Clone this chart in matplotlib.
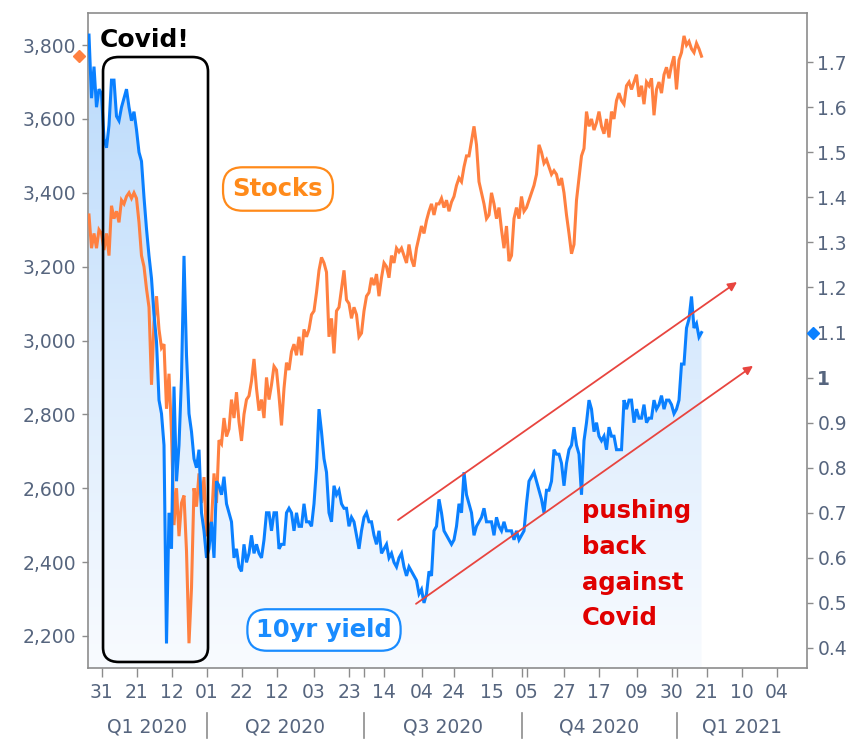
import numpy as np
import matplotlib
matplotlib.use("Agg")
import matplotlib.pyplot as plt
import matplotlib.transforms as mtransforms
from matplotlib.patches import FancyBboxPatch

# ---------------- data (one value per trading day) ----------------
yield_vals = [
    1.76, 1.62, 1.69, 1.60, 1.64, 1.63, 1.53, 1.51, 1.56, 1.66,
    1.66, 1.58, 1.57, 1.60, 1.62, 1.64, 1.60, 1.57, 1.59, 1.55,
    1.50, 1.48, 1.40, 1.33, 1.27, 1.22, 1.14, 1.08, 0.95, 0.92,
    0.85, 0.41, 0.70, 0.62, 0.98, 0.77, 0.85, 1.00, 1.27, 1.05,
    0.92, 0.88, 0.82, 0.80, 0.84, 0.70, 0.66, 0.60, 0.62, 0.68,
    0.60, 0.77, 0.76, 0.74, 0.78, 0.72, 0.70, 0.68, 0.60, 0.62,
    0.58, 0.57, 0.63, 0.59, 0.61, 0.65, 0.61, 0.63, 0.61, 0.60,
    0.64, 0.70, 0.70, 0.66, 0.70, 0.70, 0.62, 0.63, 0.63, 0.70,
    0.71, 0.70, 0.66, 0.70, 0.67, 0.67, 0.72, 0.68, 0.68, 0.67,
    0.72, 0.80, 0.93, 0.88, 0.82, 0.79, 0.70, 0.68, 0.76, 0.74,
    0.75, 0.72, 0.71, 0.71, 0.67, 0.69, 0.68, 0.65, 0.62, 0.66,
    0.69, 0.70, 0.68, 0.68, 0.65, 0.63, 0.66, 0.61, 0.62, 0.63,
    0.60, 0.61, 0.59, 0.58, 0.60, 0.61, 0.58, 0.56, 0.58, 0.57,
    0.56, 0.55, 0.52, 0.53, 0.50, 0.52, 0.57, 0.56, 0.66, 0.67,
    0.73, 0.70, 0.66, 0.65, 0.64, 0.63, 0.64, 0.67, 0.72, 0.70,
    0.79, 0.74, 0.72, 0.70, 0.65, 0.67, 0.68, 0.69, 0.71, 0.68,
    0.68, 0.68, 0.65, 0.69, 0.67, 0.66, 0.68, 0.66, 0.66, 0.66,
    0.64, 0.66, 0.64, 0.65, 0.66, 0.72, 0.77, 0.78, 0.79, 0.77,
    0.75, 0.73, 0.70, 0.75, 0.75, 0.77, 0.84, 0.83, 0.83, 0.81,
    0.76, 0.81, 0.84, 0.85, 0.89, 0.85, 0.83, 0.74, 0.86, 0.90,
    0.95, 0.93, 0.88, 0.90, 0.87, 0.86, 0.87, 0.84, 0.89, 0.87,
    0.87, 0.84, 0.84, 0.84, 0.95, 0.93, 0.95, 0.95, 0.90, 0.93,
    0.91, 0.91, 0.94, 0.90, 0.91, 0.91, 0.95, 0.93, 0.94, 0.96,
    0.93, 0.95, 0.95, 0.94, 0.92, 0.93, 0.95, 1.03, 1.03, 1.11,
    1.13, 1.18, 1.11, 1.12, 1.09, 1.10,
]

spx_vals = [
    3340, 3250, 3290, 3250, 3300, 3290, 3245, 3290, 3230, 3365,
    3330, 3350, 3320, 3380, 3370, 3390, 3400, 3385, 3400, 3385,
    3320, 3230, 3200, 3140, 3090, 2880, 3050, 3120, 3030, 2980,
    2990, 2815, 2910, 2750, 2500, 2600, 2470, 2560, 2580, 2430,
    2180, 2330, 2600, 2550, 2640, 2560, 2630, 2470, 2490, 2510,
    2640, 2560, 2730, 2720, 2790, 2740, 2760, 2840, 2790, 2860,
    2780, 2728, 2800, 2840, 2850, 2890, 2950, 2870, 2810, 2840,
    2790, 2900, 2840, 2880, 2930, 2920, 2850, 2770, 2870, 2940,
    2920, 2970, 2990, 2960, 3010, 2960, 3030, 3010, 3030, 3070,
    3080, 3130, 3190, 3225, 3210, 3185, 3010, 3060, 2965, 3080,
    3090, 3140, 3190, 3110, 3100, 3060, 3090, 3070, 3010, 3020,
    3080, 3120, 3130, 3170, 3150, 3180, 3120, 3170, 3210, 3200,
    3170, 3230, 3210, 3250, 3240, 3250, 3230, 3210, 3260, 3220,
    3200, 3250, 3280, 3310, 3290, 3325, 3350, 3370, 3340, 3370,
    3370, 3385, 3360, 3380, 3350, 3375, 3390, 3420, 3440, 3430,
    3470, 3500, 3500, 3540, 3580, 3530, 3430, 3400, 3370, 3330,
    3340, 3400, 3370, 3330, 3360, 3300, 3250, 3310, 3215, 3230,
    3330, 3360, 3330, 3390, 3350, 3360, 3380, 3400, 3420, 3450,
    3530, 3510, 3480, 3490, 3470, 3450, 3460, 3450, 3420, 3440,
    3400, 3340, 3290, 3235, 3260, 3380, 3440, 3500, 3520, 3620,
    3580, 3600, 3570, 3590, 3620, 3580, 3560, 3600, 3550, 3620,
    3600, 3650, 3670, 3650, 3640, 3690, 3700, 3680, 3700, 3720,
    3660, 3690, 3640, 3700, 3690, 3710, 3610, 3680, 3700, 3670,
    3720, 3740, 3710, 3745, 3770, 3680, 3760, 3780, 3825, 3800,
    3810, 3790, 3780, 3805, 3790, 3770,
]

x_tick_pos = [5, 19, 33, 47, 61, 75, 90, 104, 118, 133, 146, 161, 175, 190,
              204, 219, 233, 247, 261, 275]
x_tick_labels = ["31", "21", "12", "01", "22", "12", "03", "23", "14", "04",
                 "24", "15", "05", "27", "17", "09", "30", "21", "10", "04"]
quarter_bounds = [47, 110, 173, 235]
quarter_labels = ["Q1 2020", "Q2 2020", "Q3 2020", "Q4 2020", "Q1 2021"]
spx_ticks = [2200, 2400, 2600, 2800, 3000, 3200, 3400, 3600, 3800]
yield_ticks = [0.4, 0.5, 0.6, 0.7, 0.8, 0.9, 1.0, 1.1, 1.2, 1.3, 1.4, 1.5, 1.6, 1.7]
yield_tick_labels = ["0.4", "0.5", "0.6", "0.7", "0.8", "0.9", "1",
                     "1.1", "1.2", "1.3", "1.4", "1.5", "1.6", "1.7"]

# ---------------- style ----------------
BLUE = "#0a80ff"
ORANGE = "#ff8040"
TXT_ORANGE = "#ff8a1a"
TXT_BLUE = "#1a8cff"
RED_TXT = "#e00000"
ARROW_RED = "#e8453f"
LBL = "#56657e"
SPINE = "#8c8c8c"
FS = 13.5
plt.rcParams["font.family"] = ["DejaVu Sans"]

W, H = 857, 740
fig = plt.figure(figsize=(W / 100, H / 100), dpi=100)
L, R, T, B = 88, 807, 13, 668
ax_y = fig.add_axes([L / W, 1 - B / H, (R - L) / W, (B - T) / H])

XMIN, XMAX = -0.4, 287.2
Y_LO, Y_HI = 0.3556, 1.809
S_LO, S_HI = 2113, 3887

x = np.arange(len(yield_vals))
ax_y.set_xlim(XMIN, XMAX)
ax_y.set_ylim(Y_LO, Y_HI)

# gradient area under the yield line
fill = ax_y.fill_between(x, yield_vals, Y_LO, facecolor="none", edgecolor="none")
t = np.linspace(0, 1, 256)[:, None, None]
top_c = np.array([0.72, 0.85, 0.985])[None, None, :]
bot_c = np.array([0.975, 0.985, 1.0])[None, None, :]
grad = top_c + (bot_c - top_c) * t
img = ax_y.imshow(grad, extent=[XMIN, XMAX, Y_LO, Y_HI], aspect="auto",
                  origin="upper", zorder=1, interpolation="bilinear")
img.set_clip_path(fill.get_paths()[0], transform=ax_y.transData)
ax_y.set_xlim(XMIN, XMAX)
ax_y.set_ylim(Y_LO, Y_HI)

# stocks axis
ax_s = ax_y.twinx()
ax_s.set_ylim(S_LO, S_HI)
ax_s.plot(x, spx_vals, color=ORANGE, lw=2.2, solid_joinstyle="miter")

# top axis for the yield line + annotations
ax_b = ax_y.twinx()
ax_b.set_ylim(Y_LO, Y_HI)
ax_b.set_xlim(XMIN, XMAX)
ax_b.plot(x, yield_vals, color=BLUE, lw=2.2, solid_joinstyle="miter")
ax_b.axis("off")

# axis sides
ax_y.yaxis.tick_right()
ax_s.yaxis.tick_left()
for sp in ax_s.spines.values():
    sp.set_visible(False)
for sp in ax_y.spines.values():
    sp.set_color(SPINE)
    sp.set_linewidth(1.2)

# ticks
ax_y.set_yticks(yield_ticks)
ax_y.set_yticklabels(yield_tick_labels)
for lab in ax_y.get_yticklabels():
    if lab.get_text() == "1":
        lab.set_fontweight("bold")
ax_y.tick_params(axis="y", length=4.5, width=1, color=SPINE, labelcolor=LBL,
                 labelsize=FS, pad=3)
ax_s.set_yticks(spx_ticks)
ax_s.set_yticklabels([f"{v:,}" for v in spx_ticks])
ax_s.tick_params(axis="y", length=4.5, width=1, color=SPINE, labelcolor=LBL,
                 labelsize=FS, pad=4)
ax_y.set_xticks(x_tick_pos)
ax_y.set_xticklabels(x_tick_labels)
ax_y.set_xticks(quarter_bounds, minor=True)
ax_y.tick_params(axis="x", which="both", length=6.5, width=1, color=SPINE,
                 labelcolor=LBL, labelsize=FS, pad=4)

# quarter row
blend = mtransforms.blended_transform_factory(ax_y.transData, ax_y.transAxes)
for b in quarter_bounds:
    ax_y.plot([b, b], [-0.069, -0.107], transform=blend, clip_on=False,
              color=SPINE, lw=1.2)
edges = [XMIN] + quarter_bounds + [XMAX]
for i, q in enumerate(quarter_labels):
    cx = (edges[i] + edges[i + 1]) / 2
    ax_y.text(cx, -0.09, q, transform=blend, ha="center", va="center",
              fontsize=FS, color=LBL)

# current-value markers on the axes
bl_s = mtransforms.blended_transform_factory(ax_s.transAxes, ax_s.transData)
ax_s.plot([-0.012], [spx_vals[-1]], marker="D", ms=6, color=ORANGE,
          transform=bl_s, clip_on=False)
bl_b = mtransforms.blended_transform_factory(ax_b.transAxes, ax_b.transData)
ax_b.plot([1.009], [yield_vals[-1]], marker="D", ms=6, color=BLUE,
          transform=bl_b, clip_on=False)

# Covid box
box = FancyBboxPatch((0.0209, 0.0092), 0.146, 0.9236,
                     boxstyle="round,pad=0,rounding_size=0.022",
                     transform=ax_b.transAxes, fill=False, ec="black",
                     lw=1.9, clip_on=False, zorder=5)
ax_b.add_patch(box)

# trend arrows
for (x0, y0), (x1, y1) in [((123.6, 0.684), (259.2, 1.212)),
                           ((130.8, 0.498), (265.6, 1.026))]:
    ax_b.annotate("", xy=(x1, y1), xytext=(x0, y0),
                  arrowprops=dict(arrowstyle="-|>", color=ARROW_RED, lw=1.3,
                                  mutation_scale=13, shrinkA=0, shrinkB=0))

# texts
fig.text(100 / W, 1 - 40 / H, "Covid!", fontsize=18, fontweight="bold",
         color="black", ha="left", va="center")
fig.text(278 / W, 1 - 189 / H, "Stocks", fontsize=17.5, fontweight="bold",
         color=TXT_ORANGE, ha="center", va="center",
         bbox=dict(boxstyle="round,pad=0.4,rounding_size=0.8", fc="white",
                   ec=TXT_ORANGE, lw=1.6))
fig.text(324 / W, 1 - 630 / H, "10yr yield", fontsize=17.5, fontweight="bold",
         color=TXT_BLUE, ha="center", va="center",
         bbox=dict(boxstyle="round,pad=0.36,rounding_size=0.8", fc="white",
                   ec=TXT_BLUE, lw=1.6))
fig.text(582 / W, 1 - 499 / H, "pushing\nback\nagainst\nCovid", fontsize=17.5,
         fontweight="bold", color=RED_TXT, ha="left", va="top", linespacing=1.62)

fig.savefig("out.png", dpi=100, facecolor="white")
